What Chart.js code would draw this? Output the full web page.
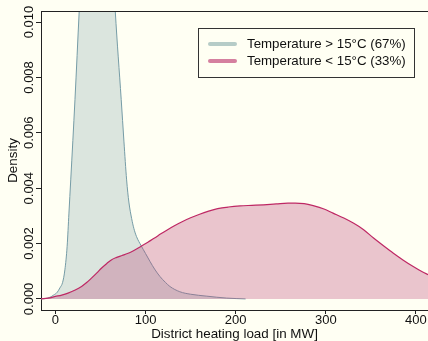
<!DOCTYPE html>
<html><head><meta charset="utf-8">
<script src="https://cdn.jsdelivr.net/npm/chart.js@4/dist/chart.umd.min.js"></script>
<style>html,body{margin:0;padding:0;background:#FFFFF3;overflow:hidden}</style>
</head><body>
<canvas id="c" width="428" height="341" style="width:428px;height:341px;display:block"></canvas>
<script>
const xTicks = [0, 100, 200, 300, 400];
const yTicks = [0, 0.002, 0.004, 0.006, 0.008, 0.010];
const yTickLabels = ['0.000', '0.002', '0.004', '0.006', '0.008', '0.010'];
const seriesNames = ['Temperature > 15°C (67%)', 'Temperature < 15°C (33%)'];
const xTitle = 'District heating load [in MW]';
const yTitle = 'Density';

const tealX = [-16, -12, -6, -2, 2, 5, 8, 10.5, 13, 15, 17, 21.7, 26.4, 30, 35, 40, 46, 52, 57, 62, 66.4, 73, 76, 79, 81.5, 84.6, 87, 90, 95, 100, 105, 110, 116, 122, 127, 138, 150, 168, 190, 211];
const tealY = [0, 0.00001, 0.00006, 0.00014, 0.00024, 0.0004, 0.0006, 0.00105, 0.0019, 0.0031, 0.0043, 0.0072, 0.0104, 0.0127, 0.0152, 0.0170, 0.0180, 0.0176, 0.0162, 0.0132, 0.0104, 0.0072, 0.0057, 0.0043, 0.0035, 0.0029, 0.00255, 0.00225, 0.00193, 0.00164, 0.00135, 0.00108, 0.00081, 0.0006, 0.00045, 0.00026, 0.00017, 0.0001, 0.00003, 0];

const redX = [-16, -8, 0, 7, 14, 22, 29, 35, 40, 46, 51, 57, 62, 68, 74, 80, 85, 90, 95, 103, 110, 117, 124, 132, 140, 150, 160, 170, 180, 192, 205, 218, 231, 245, 258, 266, 276, 286, 298, 308, 320, 331, 342, 353, 364, 375, 386, 397, 407, 414, 420];
const redY = [0.000005, 0.00003, 0.00009, 0.00014, 0.00021, 0.00032, 0.00045, 0.0006, 0.00075, 0.00094, 0.00111, 0.00128, 0.00141, 0.0015, 0.00157, 0.00164, 0.00171, 0.0018, 0.0019, 0.00206, 0.0022, 0.00235, 0.00249, 0.00264, 0.00278, 0.00293, 0.00306, 0.00317, 0.00326, 0.00332, 0.00336, 0.00338, 0.0034, 0.00343, 0.00346, 0.00346, 0.00344, 0.00337, 0.00325, 0.0031, 0.00292, 0.00273, 0.0025, 0.0022, 0.00192, 0.00165, 0.0014, 0.00117, 0.00098, 0.00087, 0.00078];

const FONT = '"Liberation Sans", Arial, Helvetica, sans-serif';
const BG = '#FFFFF3';
const tealLine = 'rgb(118,156,166)';
const tealFill = 'rgba(122,160,168,0.27)';
const redLine = 'rgb(190,40,100)';
const redFill = 'rgba(188,67,121,0.31)';
const legendTeal = '#b6ccc7';
const legendRed = '#d5809f';

const pts = (xs, ys) => xs.map((x, i) => ({x: x, y: ys[i]}));

const decor = {
  id: 'decor',
  beforeDraw(chart) {
    const ctx = chart.ctx;
    ctx.save();
    ctx.fillStyle = BG;
    ctx.fillRect(0, 0, chart.width, chart.height);
    ctx.restore();
  },
  afterDraw(chart) {
    const ctx = chart.ctx;
    const a = chart.chartArea;
    const ys = chart.scales.y;
    ctx.save();
    ctx.strokeStyle = '#222';
    ctx.lineWidth = 1;
    ctx.beginPath();
    ctx.moveTo(a.left, Math.round(a.top) + 0.5);
    ctx.lineTo(a.right, Math.round(a.top) + 0.5);
    ctx.stroke();
    ctx.fillStyle = '#111';
    ctx.font = '13px ' + FONT;
    ctx.textAlign = 'center';
    ctx.textBaseline = 'middle';
    yTicks.forEach((v, i) => {
      const py = ys.getPixelForValue(v);
      ctx.save();
      ctx.translate(29, py);
      ctx.rotate(-Math.PI / 2);
      ctx.fillText(yTickLabels[i], 0, 0);
      ctx.restore();
    });
    const lx = 198.5, ly = 28.5, lw = 216, lh = 49;
    ctx.fillStyle = BG;
    ctx.fillRect(lx, ly, lw, lh);
    ctx.strokeStyle = '#333';
    ctx.lineWidth = 1;
    ctx.strokeRect(lx, ly, lw, lh);
    const rows = [[legendTeal, 44], [legendRed, 61]];
    rows.forEach((r, i) => {
      ctx.strokeStyle = r[0];
      ctx.lineWidth = 4;
      ctx.lineCap = 'round';
      ctx.beginPath();
      ctx.moveTo(210, r[1]);
      ctx.lineTo(235, r[1]);
      ctx.stroke();
      ctx.fillStyle = '#111';
      ctx.font = '13.3px ' + FONT;
      ctx.textAlign = 'left';
      ctx.textBaseline = 'middle';
      ctx.fillText(seriesNames[i], 247, r[1] + 0.5);
    });
    ctx.restore();
  }
};

new Chart(document.getElementById('c'), {
  type: 'line',
  data: {
    datasets: [
      {label: seriesNames[0], data: pts(tealX, tealY), borderColor: tealLine, backgroundColor: tealFill,
       borderWidth: 1, pointRadius: 0, fill: {value: 0}, cubicInterpolationMode: 'monotone', order: 2},
      {label: seriesNames[1], data: pts(redX, redY), borderColor: redLine, backgroundColor: redFill,
       borderWidth: 1.2, pointRadius: 0, fill: {value: 0}, cubicInterpolationMode: 'monotone', order: 1}
    ]
  },
  options: {
    responsive: false,
    animation: false,
    devicePixelRatio: 1,
    layout: {padding: {top: 11, left: 0, right: 0, bottom: 0}},
    plugins: {legend: {display: false}, tooltip: {enabled: false}},
    scales: {
      x: {
        type: 'linear', min: -16, max: 413.4,
        afterBuildTicks: s => { s.ticks = xTicks.map(v => ({value: v})); },
        afterFit: s => { s.height = 31; },
        ticks: {font: {family: FONT, size: 13, lineHeight: 1}, color: '#111', padding: 0, maxRotation: 0, autoSkip: false,
                callback: v => String(v)},
        grid: {display: true, drawOnChartArea: false, drawTicks: true, tickLength: 4, color: '#222', lineWidth: 1},
        border: {display: true, color: '#222', width: 1},
        title: {display: true, text: xTitle, color: '#111', font: {family: FONT, size: 13.4, lineHeight: 1}, padding: {top: 0, bottom: 0}}
      },
      y: {
        type: 'linear', min: -0.0004, max: 0.0104,
        afterBuildTicks: s => { s.ticks = yTicks.map(v => ({value: v})); },
        afterFit: s => { s.width = 41; },
        ticks: {display: false},
        grid: {display: true, drawOnChartArea: false, drawTicks: true, tickLength: 5, color: '#222', lineWidth: 1},
        border: {display: true, color: '#222', width: 1},
        title: {display: true, text: yTitle, color: '#111', font: {family: FONT, size: 13.4, lineHeight: 1.2}, padding: {top: 5, bottom: 0}}
      }
    }
  },
  plugins: [decor]
});
</script>
</body></html>
